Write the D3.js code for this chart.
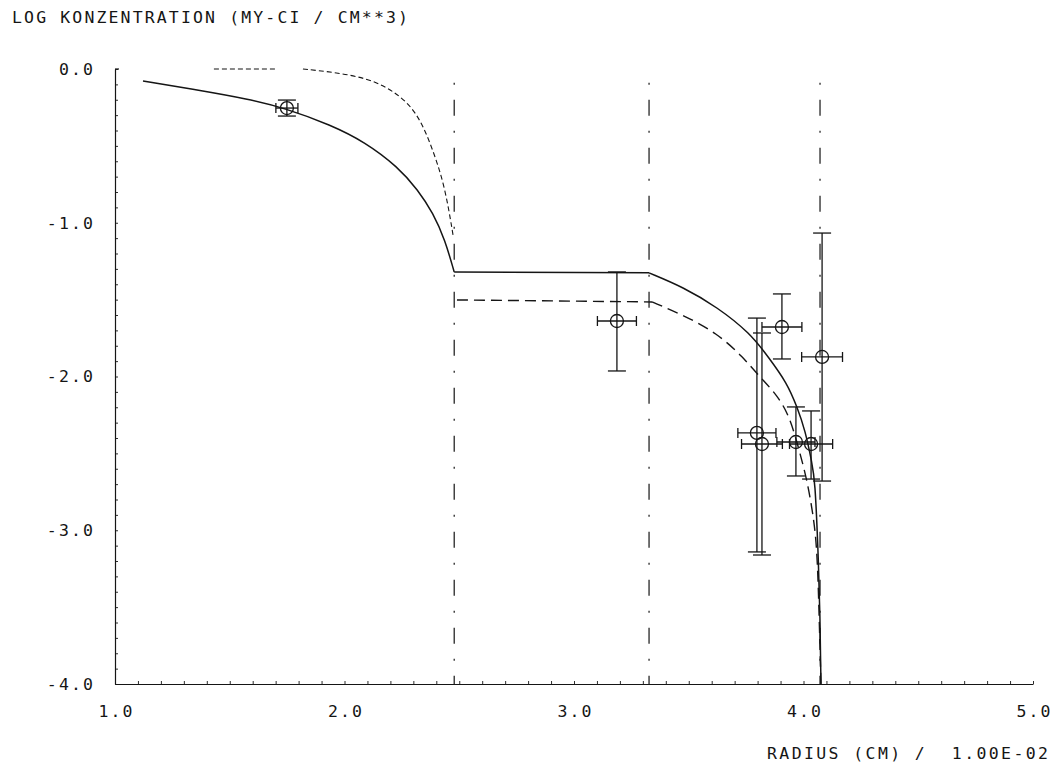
<!DOCTYPE html>
<html>
<head>
<meta charset="utf-8">
<script src="https://cdn.jsdelivr.net/npm/d3@7/dist/d3.min.js"></script>
<style>
  html, body { margin: 0; padding: 0; background: #fff; }
  svg text { font-family: "DejaVu Sans Mono", "Liberation Mono", monospace; fill: #151515; white-space: pre; }
</style>
</head>
<body>
<svg id="chart" width="1058" height="769"></svg>
<script>
// Axis ticks
const xTickValues = [1, 2, 3, 4, 5];
const yTickValues = [0, -1, -2, -3, -4];

// Zone boundaries (radius)
const boundaryR = [2.478, 3.327, 4.072];

// Model curve, solid: inner zone, plateau, outer zone
const solidInnerR = [1.122, 1.361, 1.579, 1.740, 1.941, 2.089, 2.233, 2.320, 2.386, 2.438, 2.478];
const solidInnerC = [-0.078, -0.137, -0.195, -0.254, -0.364, -0.475, -0.637, -0.787, -0.937, -1.112, -1.320];
const solidMidR = [2.478, 3.327];
const solidMidC = [-1.320, -1.326];
const solidOuterR = [3.327, 3.475, 3.623, 3.767, 3.850, 3.928, 3.972, 4.007, 4.037, 4.050, 4.063, 4.072, 4.076];
const solidOuterC = [-1.326, -1.418, -1.548, -1.717, -1.880, -2.042, -2.198, -2.348, -2.563, -2.673, -3.109, -3.538, -4.0];

// Model curve, dashed
const dashTopR = [1.431, 1.710];
const dashTopC = [0, 0];
const dashInnerR = [1.819, 1.950, 2.098, 2.211, 2.316, 2.386, 2.438, 2.473];
const dashInnerC = [0, -0.020, -0.059, -0.137, -0.273, -0.527, -0.767, -1.080];
const dashMidR = [2.490, 3.340];
const dashMidC = [-1.502, -1.515];
const dashOuterR = [3.340, 3.475, 3.623, 3.736, 3.810, 3.885, 3.941, 3.985, 4.015, 4.041, 4.059, 4.068, 4.076];
const dashOuterC = [-1.515, -1.600, -1.717, -1.873, -2.003, -2.120, -2.263, -2.500, -2.673, -2.888, -3.109, -3.538, -4.0];

// Measurements with error bars
const pointR     = [1.749, 3.187, 3.906, 4.081, 3.797, 3.819, 3.967, 4.033];
const pointC     = [-0.254, -1.639, -1.678, -1.873, -2.367, -2.439, -2.426, -2.439];
const pointRErr  = [0.048, 0.085, 0.087, 0.089, 0.083, 0.089, 0.083, 0.094];
const pointCHigh = [-0.202, -1.320, -1.463, -1.067, -1.620, -1.717, -2.198, -2.224];
const pointCLow  = [-0.306, -1.964, -1.886, -2.680, -3.141, -3.161, -2.647, -2.667];

const svg = d3.select("#chart");
const ink = "#151515";
const fontSize = 16.5;

const x = d3.scaleLinear().domain([1, 5]).range([115, 1033]);
const y = d3.scaleLinear().domain([-4, 0]).range([684, 69]);

// Title
svg.append("text")
  .attr("x", 12).attr("y", 23)
  .attr("font-size", fontSize)
  .attr("textLength", 396).attr("lengthAdjust", "spacing")
  .text("LOG KONZENTRATION (MY-CI / CM**3)");

// Minor ticks on left axis (every 0.1, pointing inward)
const yMinor = d3.range(-40, 1).map(i => i / 10);
svg.append("g")
  .attr("transform", `translate(${x(1)},0)`)
  .call(d3.axisRight(y).tickValues(yMinor).tickSize(3).tickSizeOuter(0).tickFormat(""))
  .call(g => g.selectAll("line").attr("stroke", ink).attr("stroke-width", 0.9))
  .call(g => g.select(".domain").attr("stroke", ink).attr("stroke-width", 1.2));

// Left axis labels
svg.append("g")
  .attr("transform", `translate(${x(1)},0)`)
  .call(d3.axisLeft(y).tickValues(yTickValues).tickSize(0).tickPadding(20).tickFormat(d => d.toFixed(1)))
  .call(g => g.select(".domain").remove())
  .call(g => g.selectAll("text")
    .attr("font-size", fontSize)
    .attr("font-family", null)
    .style("letter-spacing", "2.1px")
    .attr("fill", ink));

// Minor ticks on bottom axis (every 0.1, pointing up)
const xMinor = d3.range(10, 51).map(i => i / 10);
svg.append("g")
  .attr("transform", `translate(0,${y(-4)})`)
  .call(d3.axisTop(x).tickValues(xMinor).tickSize(3).tickSizeOuter(0).tickFormat(""))
  .call(g => g.selectAll("line").attr("stroke", ink).attr("stroke-width", 0.9))
  .call(g => g.select(".domain").attr("stroke", ink).attr("stroke-width", 1.2));

// Bottom axis labels
svg.append("g")
  .attr("transform", `translate(0,${y(-4)})`)
  .call(d3.axisBottom(x).tickValues(xTickValues).tickSize(0).tickPadding(21).tickFormat(d => d.toFixed(1)))
  .call(g => g.select(".domain").remove())
  .call(g => g.selectAll("text")
    .attr("font-size", fontSize)
    .attr("font-family", null)
    .style("letter-spacing", "2.1px")
    .attr("dx", "1px")
    .attr("fill", ink));

// Small cap at the top of the left axis
svg.append("line")
  .attr("x1", x(1)).attr("x2", x(1) + 4)
  .attr("y1", y(0)).attr("y2", y(0))
  .attr("stroke", ink).attr("stroke-width", 1.2);

// Axis title
svg.append("text")
  .attr("x", 767).attr("y", 759)
  .attr("font-size", fontSize)
  .attr("textLength", 281).attr("lengthAdjust", "spacing")
  .text("RADIUS (CM) /  1.00E-02");

// Zone boundaries: dash-dot verticals
svg.append("g").selectAll("line")
  .data(boundaryR)
  .join("line")
  .attr("x1", d => x(d)).attr("x2", d => x(d))
  .attr("y1", y(-0.09)).attr("y2", y(-4))
  .attr("stroke", ink).attr("stroke-width", 1.2)
  .attr("stroke-dasharray", "2,15,16,15");

const zip = (rs, cs) => rs.map((r, i) => [r, cs[i]]);
const line = d3.line().x(d => x(d[0])).y(d => y(d[1])).curve(d3.curveBasis);
const lineStraight = d3.line().x(d => x(d[0])).y(d => y(d[1]));

const curves = svg.append("g").attr("fill", "none").attr("stroke", ink);

// Solid model curve
[[solidInnerR, solidInnerC, line], [solidMidR, solidMidC, lineStraight], [solidOuterR, solidOuterC, line]]
  .forEach(([rs, cs, gen]) => {
    curves.append("path")
      .attr("d", gen(zip(rs, cs)))
      .attr("stroke-width", 1.5);
  });

// Dashed model curve (fine dashes in the inner zone, longer dashes outside)
[[dashTopR, dashTopC, lineStraight, "5,3", 1.1], [dashInnerR, dashInnerC, line, "5,3", 1.1],
 [dashMidR, dashMidC, lineStraight, "11,6", 1.4], [dashOuterR, dashOuterC, line, "11,6", 1.4]]
  .forEach(([rs, cs, gen, dash, w]) => {
    curves.append("path")
      .attr("d", gen(zip(rs, cs)))
      .attr("stroke-width", w)
      .attr("stroke-dasharray", dash);
  });

// Measurements
const points = pointR.map((r, i) => ({
  r, c: pointC[i], re: pointRErr[i], hi: pointCHigh[i], lo: pointCLow[i]
}));
const capHalf = 9, endHalf = 5, radius = 6.5;
const pts = svg.append("g").attr("stroke", ink).attr("fill", "none").attr("stroke-width", 1.3);
const pg = pts.selectAll("g").data(points).join("g");
// vertical error bar and caps
pg.append("line")
  .attr("x1", d => x(d.r)).attr("x2", d => x(d.r))
  .attr("y1", d => y(d.hi)).attr("y2", d => y(d.lo));
pg.append("line")
  .attr("x1", d => x(d.r) - capHalf).attr("x2", d => x(d.r) + capHalf)
  .attr("y1", d => y(d.hi)).attr("y2", d => y(d.hi));
pg.append("line")
  .attr("x1", d => x(d.r) - capHalf).attr("x2", d => x(d.r) + capHalf)
  .attr("y1", d => y(d.lo)).attr("y2", d => y(d.lo));
// horizontal error bar and end ticks
pg.append("line")
  .attr("x1", d => x(d.r - d.re)).attr("x2", d => x(d.r + d.re))
  .attr("y1", d => y(d.c)).attr("y2", d => y(d.c));
pg.append("line")
  .attr("x1", d => x(d.r - d.re)).attr("x2", d => x(d.r - d.re))
  .attr("y1", d => y(d.c) - endHalf).attr("y2", d => y(d.c) + endHalf);
pg.append("line")
  .attr("x1", d => x(d.r + d.re)).attr("x2", d => x(d.r + d.re))
  .attr("y1", d => y(d.c) - endHalf).attr("y2", d => y(d.c) + endHalf);
pg.append("circle")
  .attr("cx", d => x(d.r)).attr("cy", d => y(d.c))
  .attr("r", radius);
</script>
</body>
</html>
